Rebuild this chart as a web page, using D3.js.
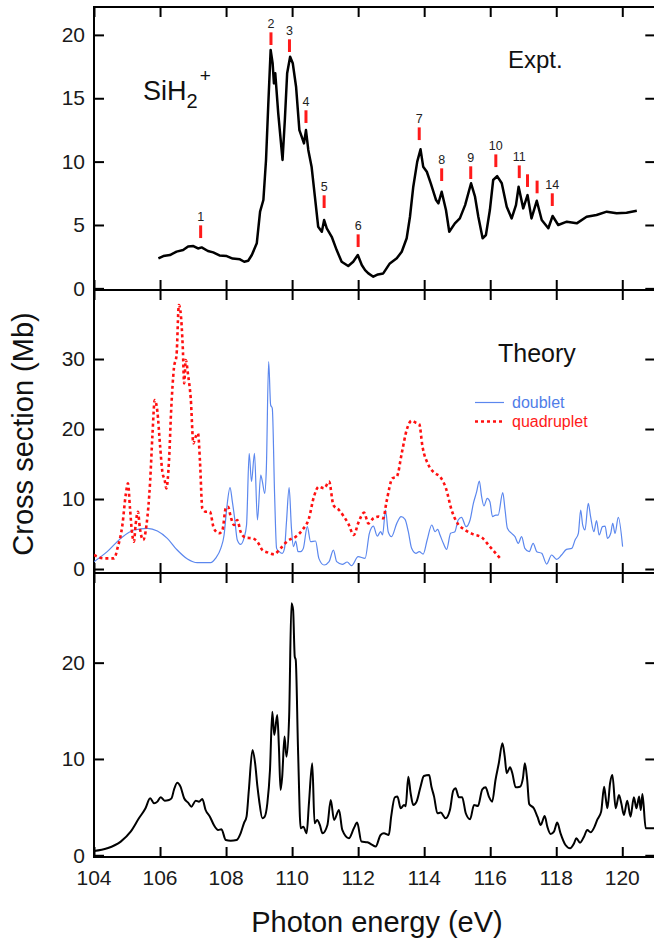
<!DOCTYPE html>
<html>
<head>
<meta charset="utf-8">
<script src="https://cdn.jsdelivr.net/npm/d3@7"></script>
<style>
  body { margin: 0; background: #fff; }
  svg { display: block; font-family: "Liberation Sans", Arial, sans-serif; }
</style>
</head>
<body>
<div id="chart"></div>
<script>
// x axis shared by all three panels
const energyTicks = [104, 106, 108, 110, 112, 114, 116, 118, 120];

// experimental SiH2+ yield [photon energy, cross section]
const exptCurve = [
  [105.95, 2.37], [106.1, 2.55], [106.3, 2.63], [106.5, 2.9], [106.7, 3.02], [106.85, 3.3], [107.01, 3.34],
  [107.15, 3.15], [107.26, 3.23], [107.45, 2.95], [107.61, 2.84], [107.8, 2.6], [108.02, 2.55], [108.2, 2.35],
  [108.42, 2.29], [108.55, 2.1], [108.67, 2.18], [108.78, 2.63], [108.93, 3.55], [109.03, 6.05],
  [109.13, 6.97], [109.21, 10.13], [109.28, 14.6], [109.35, 18.81], [109.41, 17.76], [109.45, 16.18],
  [109.49, 16.97], [109.58, 13.81], [109.71, 10.13], [109.78, 13.28], [109.85, 16.97], [109.94, 18.28],
  [110.02, 17.76], [110.12, 15.91], [110.22, 12.49], [110.29, 11.97], [110.36, 11.44], [110.42, 12.49],
  [110.49, 10.92], [110.59, 9.6], [110.69, 7.23], [110.79, 4.86], [110.9, 4.47], [110.97, 5.39],
  [111.05, 4.74], [111.2, 4.07], [111.35, 3.02], [111.5, 2.1], [111.7, 1.76], [111.85, 2.1],
  [111.99, 2.63], [112.11, 1.84], [112.21, 1.44], [112.31, 1.18], [112.46, 0.92], [112.6, 1.1],
  [112.76, 1.18], [112.96, 1.97], [113.17, 2.37], [113.32, 2.89], [113.47, 3.95], [113.57, 5.65],
  [113.67, 8.02], [113.79, 10.0], [113.89, 10.97], [113.97, 9.6], [114.08, 9.2], [114.2, 8.29],
  [114.36, 6.97], [114.43, 6.71], [114.53, 7.62], [114.66, 6.18], [114.76, 4.47], [114.93, 5.13],
  [115.08, 5.52], [115.24, 6.57], [115.42, 8.29], [115.54, 7.23], [115.64, 5.65], [115.77, 3.95],
  [115.87, 4.21], [115.99, 6.18], [116.09, 8.55], [116.21, 8.86], [116.35, 8.29], [116.5, 6.44],
  [116.65, 5.52], [116.78, 6.57], [116.86, 8.02], [117.0, 6.31], [117.13, 7.36], [117.25, 5.52],
  [117.41, 6.91], [117.56, 5.39], [117.76, 4.74], [117.89, 5.71], [118.06, 5.0], [118.32, 5.26],
  [118.62, 5.13], [118.92, 5.65], [119.22, 5.79], [119.53, 6.05], [119.83, 5.92], [120.13, 5.97],
  [120.44, 6.12]
];

// assigned resonances: [label, energy, level of marker base]
const peakMarks = [
  ["1", 107.23, 3.97], ["2", 109.36, 19.2], ["3", 109.92, 18.65], ["4", 110.42, 13.05],
  ["5", 110.97, 6.34], ["6", 112.0, 3.26], ["7", 113.85, 11.7], ["8", 114.53, 8.47],
  ["9", 115.41, 8.63], ["10", 116.17, 9.57], ["11", 116.88, 8.7], ["", 117.13, 8.0],
  ["", 117.42, 7.5], ["14", 117.88, 6.5]
];

// theory, doublet channel
const doubletCurve = [
  [104.0, 1.05], [104.4, 2.48], [104.81, 4.38], [105.21, 5.57], [105.62, 5.81], [105.92, 5.43],
  [106.22, 4.38], [106.52, 2.71], [106.83, 1.43], [107.13, 0.9], [107.53, 0.9], [107.68, 1.52],
  [107.84, 2.95], [107.94, 4.86], [108.02, 8.67], [108.12, 11.62], [108.19, 9.62], [108.26, 7.24],
  [108.34, 4.14], [108.44, 3.52], [108.54, 4.38], [108.62, 6.29], [108.7, 16.52], [108.77, 12.48],
  [108.86, 16.52], [108.95, 7.0], [109.05, 13.43], [109.1, 12.48], [109.17, 10.81], [109.22, 14.38],
  [109.29, 29.62], [109.35, 23.43], [109.4, 22.95], [109.47, 10.57], [109.53, 2.95], [109.61, 2.48],
  [109.7, 2.24], [109.77, 2.95], [109.83, 6.76], [109.91, 11.62], [109.98, 5.81], [110.04, 3.19],
  [110.11, 4.0], [110.18, 2.48], [110.26, 2.48], [110.34, 2.95], [110.46, 6.05], [110.56, 3.9],
  [110.71, 4.0], [110.81, 1.52], [110.97, 0.57], [111.12, 1.05], [111.25, 2.71], [111.35, 1.05],
  [111.52, 0.67], [111.67, 1.0], [111.8, 0.48], [112.0, 1.76], [112.21, 1.52], [112.34, 5.1],
  [112.46, 6.14], [112.58, 4.71], [112.68, 5.33], [112.74, 4.86], [112.83, 8.43], [112.91, 5.33],
  [113.01, 4.62], [113.17, 6.52], [113.3, 7.48], [113.42, 7.1], [113.52, 5.33], [113.62, 2.95],
  [113.75, 2.24], [113.85, 2.48], [113.97, 2.14], [114.09, 4.14], [114.23, 6.29], [114.33, 5.33],
  [114.41, 5.67], [114.48, 4.86], [114.58, 3.67], [114.68, 2.81], [114.8, 5.1], [114.93, 5.33],
  [115.03, 7.0], [115.13, 7.38], [115.27, 6.05], [115.39, 7.0], [115.49, 9.38], [115.59, 11.05],
  [115.67, 12.57], [115.74, 10.33], [115.81, 9.0], [115.91, 10.1], [115.99, 9.62], [116.07, 7.48],
  [116.17, 7.71], [116.24, 7.71], [116.38, 10.9], [116.45, 8.43], [116.52, 5.81], [116.65, 5.1],
  [116.75, 4.62], [116.85, 3.67], [116.95, 4.62], [117.05, 2.95], [117.18, 2.48], [117.3, 3.67],
  [117.41, 2.48], [117.56, 2.24], [117.71, 0.71], [117.86, 2.0], [118.01, 1.38], [118.16, 2.0],
  [118.31, 2.81], [118.47, 2.95], [118.57, 4.14], [118.67, 5.1], [118.74, 8.43], [118.8, 6.29],
  [118.87, 5.57], [118.97, 9.38], [119.04, 7.48], [119.14, 5.33], [119.22, 6.9], [119.3, 4.86],
  [119.4, 6.05], [119.48, 6.14], [119.55, 4.38], [119.65, 5.1], [119.71, 6.52], [119.78, 5.1],
  [119.88, 7.38], [120.01, 3.19]
];

// theory, quadruplet channel
const quadrupletCurve = [
  [104.0, 2.0], [104.3, 1.52], [104.61, 1.52], [104.71, 2.95], [104.86, 6.29], [104.96, 10.57],
  [105.03, 12.24], [105.09, 8.67], [105.16, 4.86], [105.21, 3.9], [105.26, 6.29], [105.33, 8.19],
  [105.39, 5.81], [105.49, 4.14], [105.59, 6.29], [105.7, 12.48], [105.77, 19.14], [105.84, 24.14],
  [105.92, 22.48], [106.0, 17.71], [106.07, 13.9], [106.14, 12.71], [106.19, 11.52], [106.27, 15.33],
  [106.34, 22.95], [106.42, 28.67], [106.5, 30.57], [106.57, 37.71], [106.62, 36.76], [106.69, 31.52],
  [106.73, 26.52], [106.78, 29.86], [106.85, 27.71], [106.93, 24.38], [107.01, 17.95], [107.08, 18.9],
  [107.15, 19.38], [107.21, 15.33], [107.28, 8.67], [107.38, 8.19], [107.51, 8.19], [107.63, 5.81],
  [107.79, 5.1], [107.89, 5.57], [107.99, 8.67], [108.06, 8.9], [108.14, 7.48], [108.24, 6.29],
  [108.34, 7.0], [108.44, 5.33], [108.59, 4.48], [108.8, 4.38], [108.95, 3.9], [109.1, 2.71],
  [109.25, 2.38], [109.45, 2.1], [109.65, 2.95], [109.86, 4.0], [110.11, 4.62], [110.31, 5.57],
  [110.51, 7.24], [110.66, 10.33], [110.81, 11.76], [110.97, 11.52], [111.12, 12.48], [111.25, 9.14],
  [111.42, 8.43], [111.57, 7.48], [111.7, 6.5], [111.87, 4.86], [112.0, 6.52], [112.18, 8.05],
  [112.31, 6.52], [112.46, 7.24], [112.61, 7.48], [112.76, 7.24], [112.86, 9.62], [113.04, 12.95],
  [113.17, 13.19], [113.32, 16.52], [113.47, 19.86], [113.62, 21.19], [113.75, 20.9], [113.85, 20.71],
  [113.95, 17.47], [114.13, 14.86], [114.33, 13.67], [114.48, 13.19], [114.66, 11.52], [114.83, 8.43],
  [114.98, 6.76], [115.24, 5.57], [115.49, 4.95], [115.74, 4.52], [115.99, 3.19], [116.3, 1.52]
];

// theory, total (bottom panel)
const totalCurve = [
  [104.0, 0.45], [104.4, 0.73], [104.81, 1.42], [105.11, 2.45], [105.36, 3.84], [105.56, 4.88],
  [105.7, 5.92], [105.82, 5.4], [105.92, 5.57], [106.02, 6.02], [106.14, 5.67], [106.27, 5.74],
  [106.35, 5.92], [106.42, 6.78], [106.52, 7.54], [106.62, 7.12], [106.73, 5.92], [106.85, 5.46],
  [106.95, 5.05], [107.08, 5.67], [107.18, 5.57], [107.28, 5.85], [107.38, 4.7], [107.51, 4.01],
  [107.63, 3.15], [107.76, 2.63], [107.86, 2.7], [107.99, 1.59], [108.14, 1.52], [108.32, 1.59],
  [108.44, 2.28], [108.54, 3.32], [108.62, 4.01], [108.69, 6.78], [108.8, 10.93], [108.88, 9.55],
  [108.95, 7.12], [109.0, 5.74], [109.1, 3.84], [109.17, 4.01], [109.25, 5.4], [109.33, 8.86],
  [109.4, 14.91], [109.46, 12.49], [109.55, 14.57], [109.6, 11.28], [109.65, 6.78], [109.7, 8.16],
  [109.77, 12.32], [109.83, 10.24], [109.91, 14.39], [109.98, 26.17], [110.03, 25.47], [110.08, 20.62],
  [110.11, 20.28], [110.18, 10.93], [110.26, 2.8], [110.34, 2.97], [110.44, 2.28], [110.51, 5.4],
  [110.61, 9.55], [110.68, 3.32], [110.76, 3.67], [110.84, 3.15], [110.92, 2.28], [111.07, 3.15],
  [111.17, 5.74], [111.27, 3.67], [111.42, 4.7], [111.52, 2.63], [111.72, 1.77], [111.87, 2.8],
  [111.97, 3.39], [112.1, 1.42], [112.28, 1.35], [112.43, 1.07], [112.53, 0.9], [112.68, 2.11],
  [112.78, 2.28], [112.93, 2.11], [113.0, 4.01], [113.11, 6.02], [113.19, 6.09], [113.29, 4.88],
  [113.39, 5.22], [113.44, 5.1], [113.52, 8.16], [113.59, 6.44], [113.67, 5.22], [113.77, 5.57],
  [113.89, 7.12], [113.99, 8.23], [114.15, 8.34], [114.22, 7.12], [114.3, 6.09], [114.4, 4.36],
  [114.5, 4.43], [114.65, 3.84], [114.78, 4.7], [114.88, 6.71], [114.95, 6.96], [115.05, 6.02],
  [115.15, 6.02], [115.26, 4.36], [115.39, 3.74], [115.51, 5.22], [115.63, 5.12], [115.76, 6.85],
  [115.86, 7.06], [115.96, 6.09], [116.06, 5.57], [116.16, 7.82], [116.26, 9.55], [116.37, 11.63],
  [116.44, 10.24], [116.5, 8.51], [116.6, 9.14], [116.67, 8.51], [116.77, 7.06], [116.9, 7.12],
  [116.99, 7.99], [117.05, 9.55], [117.12, 7.82], [117.18, 5.33], [117.32, 4.88], [117.43, 4.01],
  [117.53, 3.15], [117.65, 4.08], [117.73, 2.97], [117.83, 2.21], [117.93, 2.45], [118.03, 3.39],
  [118.13, 2.28], [118.28, 1.07], [118.42, 0.73], [118.54, 1.25], [118.61, 1.77], [118.72, 1.31],
  [118.84, 1.93], [118.94, 2.63], [119.04, 2.39], [119.16, 2.97], [119.24, 3.67], [119.36, 4.53],
  [119.45, 7.12], [119.5, 5.9], [119.55, 4.88], [119.63, 7.48], [119.7, 8.34], [119.8, 4.88],
  [119.9, 6.26], [119.97, 5.4], [120.05, 4.19], [120.15, 5.67], [120.25, 4.01], [120.35, 6.02],
  [120.43, 4.88], [120.51, 6.09], [120.56, 4.7], [120.61, 6.37], [120.71, 2.8], [121.0, 2.8]
];

const width = 654, height = 943;
const margin = { left: 94, right: -1.3 };

const svg = d3.select("#chart").append("svg")
  .attr("width", width)
  .attr("height", height);

const x = d3.scaleLinear().domain([104, 121]).range([margin.left, width - margin.right]);

const panels = [
  { id: "expt", top: 7, bottom: 290, domain: [-0.13, 22.2], ticks: [0, 5, 10, 15, 20] },
  { id: "theory", top: 290, bottom: 573, domain: [-0.57, 39.86], ticks: [0, 10, 20, 30] },
  { id: "total", top: 573, bottom: 857, domain: [-0.18, 29.31], ticks: [0, 10, 20] }
];

const tickLen = 10;

panels.forEach(function (p) {
  p.y = d3.scaleLinear().domain(p.domain).range([p.bottom, p.top]);
  const g = svg.append("g").attr("class", "panel " + p.id);

  svg.append("clipPath").attr("id", "clip-" + p.id)
    .append("rect")
    .attr("x", x.range()[0]).attr("y", p.top)
    .attr("width", x.range()[1] - x.range()[0]).attr("height", p.bottom - p.top);

  // y axes: labels left, inward ticks on both sides
  const left = g.append("g").attr("transform", `translate(${x.range()[0]},0)`)
    .call(d3.axisRight(p.y).tickValues(p.ticks).tickSize(tickLen).tickPadding(-tickLen - 9).tickFormat(d3.format("d")));
  left.select(".domain").remove();
  left.selectAll("line").attr("stroke", "#000").attr("stroke-width", 2);
  left.selectAll("text").attr("text-anchor", "end").attr("font-size", 21).attr("fill", "#1a1a1a");

  const right = g.append("g").attr("transform", `translate(${x.range()[1]},0)`)
    .call(d3.axisLeft(p.y).tickValues(p.ticks).tickSize(tickLen).tickFormat(""));
  right.select(".domain").remove();
  right.selectAll("line").attr("stroke", "#000").attr("stroke-width", 2);

  // x ticks on top and bottom edges, pointing inward
  const top = g.append("g").attr("transform", `translate(0,${p.top})`)
    .call(d3.axisBottom(x).tickValues(energyTicks).tickSize(tickLen).tickFormat(""));
  top.select(".domain").remove();
  top.selectAll("line").attr("stroke", "#000").attr("stroke-width", 2);

  const bot = g.append("g").attr("transform", `translate(0,${p.bottom})`)
    .call(d3.axisTop(x).tickValues(energyTicks).tickSize(tickLen).tickFormat(""));
  bot.select(".domain").remove();
  bot.selectAll("line").attr("stroke", "#000").attr("stroke-width", 2);

  g.append("rect")
    .attr("x", x.range()[0]).attr("y", p.top)
    .attr("width", x.range()[1] - x.range()[0]).attr("height", p.bottom - p.top)
    .attr("fill", "none").attr("stroke", "#000").attr("stroke-width", 2);
});

function curve(p, smooth) {
  const line = d3.line().x((d) => x(d[0])).y((d) => p.y(d[1]));
  return smooth ? line.curve(d3.curveMonotoneX) : line;
}

// panel 1: experiment
const pE = panels[0];
svg.append("path").datum(exptCurve)
  .attr("clip-path", "url(#clip-expt)")
  .attr("d", curve(pE, false))
  .attr("fill", "none").attr("stroke", "#000").attr("stroke-width", 2.5)
  .attr("stroke-linejoin", "round");

const marks = svg.append("g");
marks.selectAll("line").data(peakMarks).enter().append("line")
  .attr("x1", (d) => x(d[1])).attr("x2", (d) => x(d[1]))
  .attr("y1", (d) => pE.y(d[2])).attr("y2", (d) => pE.y(d[2] + 1))
  .attr("stroke", "#ff1a1a").attr("stroke-width", 3);
marks.selectAll("text").data(peakMarks).enter().append("text")
  .attr("x", (d) => x(d[1])).attr("y", (d) => pE.y(d[2] + 1) - 4)
  .attr("text-anchor", "middle").attr("font-size", 12.5).attr("fill", "#222")
  .text((d) => d[0]);

const species = svg.append("text").attr("x", 143).attr("y", 100).attr("font-size", 27).attr("fill", "#111");
species.append("tspan").text("SiH");
species.append("tspan").attr("font-size", 20).attr("dy", 8).text("2");
species.append("tspan").attr("font-size", 19).attr("dy", -26).attr("dx", 2).text("+");

svg.append("text").attr("x", 508).attr("y", 68).attr("font-size", 24).attr("fill", "#111").text("Expt.");

// panel 2: theory by spin channel
const pT = panels[1];
svg.append("path").datum(doubletCurve)
  .attr("clip-path", "url(#clip-theory)")
  .attr("d", curve(pT, true))
  .attr("fill", "none").attr("stroke", "#5b87ee").attr("stroke-width", 1.2);
svg.append("path").datum(quadrupletCurve)
  .attr("clip-path", "url(#clip-theory)")
  .attr("d", curve(pT, true))
  .attr("fill", "none").attr("stroke", "#ff1010").attr("stroke-width", 2.6)
  .attr("stroke-dasharray", "3,3");

svg.append("text").attr("x", 498).attr("y", 362).attr("font-size", 25).attr("fill", "#111").text("Theory");

const legend = svg.append("g");
legend.append("line").attr("x1", 475).attr("x2", 504).attr("y1", 402.5).attr("y2", 402.5)
  .attr("stroke", "#5b87ee").attr("stroke-width", 1.2);
legend.append("text").attr("x", 512).attr("y", 408).attr("font-size", 16).attr("fill", "#4f7de8").text("doublet");
legend.append("line").attr("x1", 475).attr("x2", 504).attr("y1", 421.5).attr("y2", 421.5)
  .attr("stroke", "#ff1010").attr("stroke-width", 2.6).attr("stroke-dasharray", "3,3");
legend.append("text").attr("x", 512).attr("y", 427).attr("font-size", 16).attr("fill", "#ff1a1a").text("quadruplet");

// panel 3: summed theory
const pS = panels[2];
svg.append("path").datum(totalCurve)
  .attr("clip-path", "url(#clip-total)")
  .attr("d", curve(pS, true))
  .attr("fill", "none").attr("stroke", "#000").attr("stroke-width", 2)
  .attr("stroke-linejoin", "round");

// shared x tick labels and axis titles
svg.append("g").selectAll("text").data(energyTicks).enter().append("text")
  .attr("x", (d) => x(d)).attr("y", 885)
  .attr("text-anchor", "middle").attr("font-size", 21).attr("fill", "#1a1a1a")
  .text((d) => d);

svg.append("text")
  .attr("x", 377).attr("y", 932)
  .attr("text-anchor", "middle").attr("font-size", 29).attr("fill", "#111")
  .text("Photon energy (eV)");

svg.append("text")
  .attr("transform", "translate(33,434) rotate(-90)")
  .attr("text-anchor", "middle").attr("font-size", 29).attr("fill", "#111")
  .text("Cross section (Mb)");
</script>
</body>
</html>
